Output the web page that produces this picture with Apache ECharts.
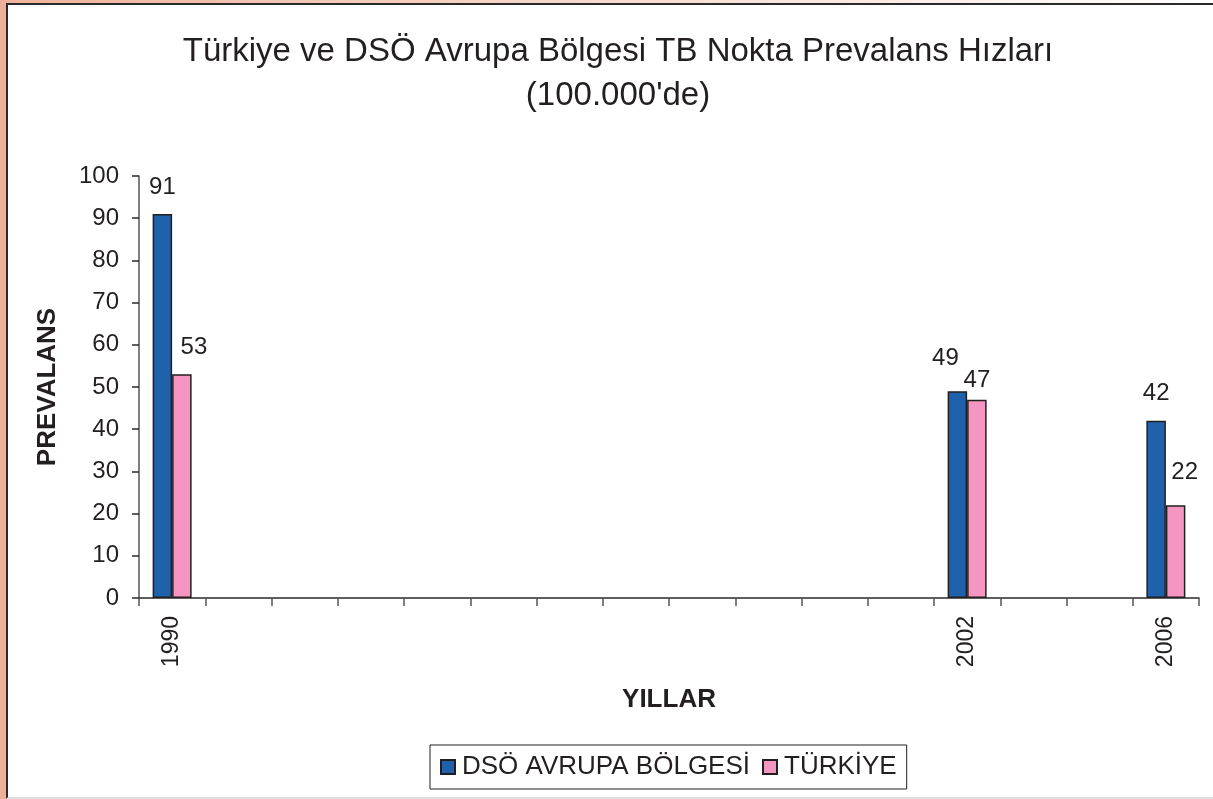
<!DOCTYPE html>
<html>
<head>
<meta charset="utf-8">
<script src="https://cdn.jsdelivr.net/npm/echarts@6/dist/echarts.min.js"></script>
<style>
  html, body { margin: 0; padding: 0; background: #fff; }
  .frame {
    position: absolute; left: 0; top: 0; width: 1213px; height: 799px;
    background: linear-gradient(to right, #efb39c 0%, #f5d3c5 40%, #ffffff 100%);
  }
  .sheet {
    position: absolute; left: 6px; top: 3px; right: 0; bottom: 0;
    background: #fff;
    border-left: 2px solid #2a2a2a;
    border-top: 2px solid #2a2a2a;
    border-bottom: 2px solid #dedede;
  }
  .side {
    position: absolute; left: 0; top: 0; width: 6px; height: 799px; background: #efb09a;
  }
  #chart { position: absolute; left: 0; top: 0; width: 1213px; height: 799px; }
</style>
</head>
<body>
<div class="frame"></div>
<div class="side"></div>
<div class="sheet"></div>
<div id="chart"></div>
<script>
// categories: one slot per year position, only some are labelled
const years = ['1990', '', '', '', '', '', '', '', '', '', '', '', '2002', '', '', '2006']
const dsoValues = [91, null, null, null, null, null, null, null, null, null, null, null, 49, null, null, 42]
const turkiyeValues = [53, null, null, null, null, null, null, null, null, null, null, null, 47, null, null, 22]
const seriesNames = ['DSÖ AVRUPA BÖLGESİ', 'TÜRKİYE']

// label nudges (dx, dy) per category index, to mimic the original placement
const labelNudge = {
  dso: { 0: [0, 0], 12: [-12, -6], 15: [0, 0] },
  tr: { 0: [12, 0], 12: [0, 8], 15: [9, -6] }
}

const textColor = '#231f20'
const font = '"Liberation Sans", Arial, sans-serif'

const toItems = (values, nudge) => values.map((v, i) => {
  if (v == null) return null
  const n = nudge[i] || [0, 0]
  return { value: v, label: { offset: n } }
})

const chart = echarts.init(document.getElementById('chart'))

const barLabel = {
  show: true,
  position: 'top',
  distance: 15,
  fontSize: 24,
  fontFamily: font,
  color: textColor
}

const option = {
  backgroundColor: 'transparent',
  textStyle: { fontFamily: font, color: textColor },
  title: {
    text: 'Türkiye ve DSÖ Avrupa Bölgesi TB Nokta Prevalans Hızları\n(100.000\'de)',
    left: 613,
    top: 25,
    textAlign: 'center',
    textStyle: {
      fontFamily: font,
      fontSize: 33,
      fontWeight: 'normal',
      lineHeight: 44,
      color: textColor
    }
  },
  legend: {
    left: 430,
    top: 745,
    padding: [9, 10, 9, 10],
    itemGap: 12,
    itemWidth: 14,
    itemHeight: 14,
    icon: 'rect',
    borderColor: '#231f20',
    borderWidth: 1,
    textStyle: { fontFamily: font, fontSize: 26, color: textColor, padding: [0, 0, 0, 2] },
    data: seriesNames
  },
  grid: {
    left: 139,
    right: 14,
    top: 176,
    bottom: 201
  },
  xAxis: {
    type: 'category',
    data: years,
    name: 'YILLAR',
    nameLocation: 'middle',
    nameGap: 89,
    nameTextStyle: { fontFamily: font, fontSize: 26, fontWeight: 'bold', color: textColor },
    axisLine: { lineStyle: { color: '#2a2a2a', width: 1.5 } },
    axisTick: { show: true, interval: 0, length: 8, lineStyle: { color: '#555', width: 1.5 } },
    axisLabel: {
      interval: 0,
      rotate: 90,
      margin: 18,
      fontSize: 23,
      color: textColor,
      fontFamily: font
    }
  },
  yAxis: {
    type: 'value',
    min: 0,
    max: 100,
    interval: 10,
    name: 'PREVALANS',
    nameLocation: 'middle',
    nameGap: 78,
    nameTextStyle: { fontFamily: font, fontSize: 26, fontWeight: 'bold', color: textColor },
    axisLine: { show: true, lineStyle: { color: '#555', width: 1.5 } },
    axisTick: { show: true, length: 7, lineStyle: { color: '#2a2a2a', width: 1.5 } },
    splitLine: { show: false },
    axisLabel: { margin: 20, fontSize: 24, color: textColor, fontFamily: font }
  },
  series: [
    {
      name: seriesNames[0],
      type: 'bar',
      barWidth: 19.5,
      barGap: '0%',
      data: toItems(dsoValues, labelNudge.dso),
      itemStyle: { color: '#2061ab', borderColor: '#231f20', borderWidth: 1.5 },
      label: barLabel
    },
    {
      name: seriesNames[1],
      type: 'bar',
      barWidth: 19.5,
      data: toItems(turkiyeValues, labelNudge.tr),
      itemStyle: { color: '#f496c1', borderColor: '#231f20', borderWidth: 1.5 },
      label: barLabel
    }
  ]
}

chart.setOption(option)
window.addEventListener('resize', () => chart.resize())
</script>
</body>
</html>
